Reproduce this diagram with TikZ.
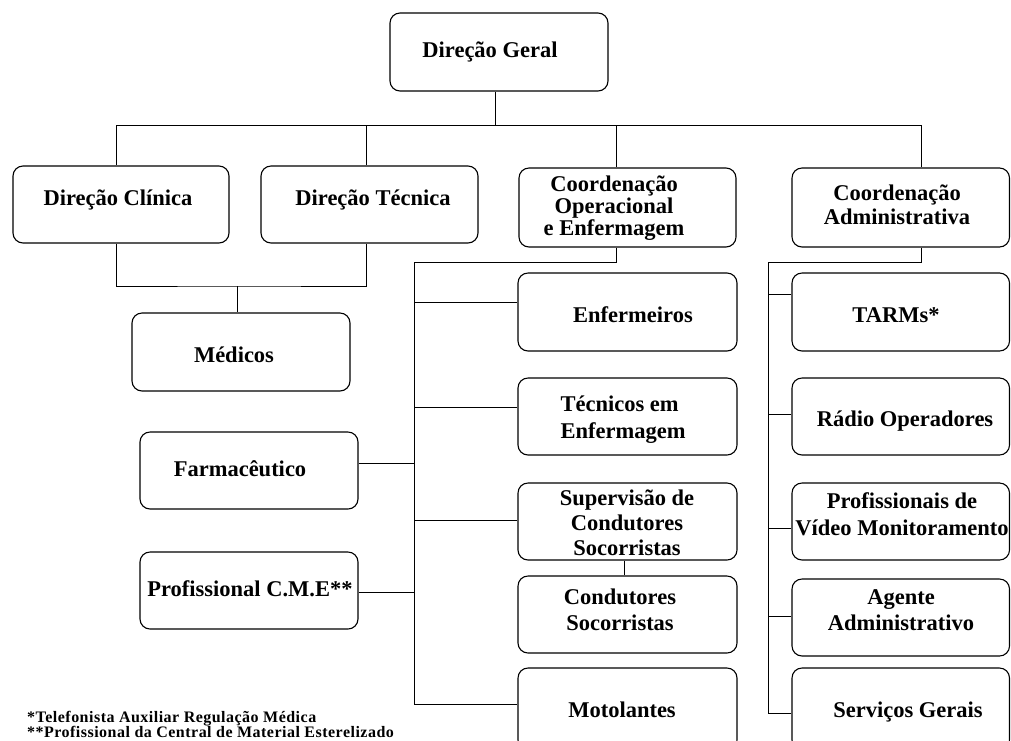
\documentclass[tikz,border=0pt]{standalone}
\usepackage{fontspec}
\setmainfont{Liberation Serif}
\newfontfamily\notefont[LetterSpace=3]{Liberation Serif}
% multi-line label: #1 line spacing, #2 column alignment, #3 lines
\newcommand{\txtlines}[3]{{\fontsize{22.5}{#1}\selectfont\begin{tabular}[t]{@{}#2@{}}#3\end{tabular}}}

\begin{document}
\begin{tikzpicture}[x=1pt,y=-1pt,
  box/.style={draw, line width=1.1pt, rounded corners=10pt, inner sep=0pt},
  link/.style={line width=0.9pt},
  lbl/.style={inner sep=0pt, anchor=base, font=\fontsize{22.5}{26}\selectfont\bfseries},
  note/.style={inner sep=0pt, anchor=base west, font=\fontsize{16}{16}\selectfont\notefont\bfseries}]
\useasboundingbox (0,0) rectangle (1011,740);

% ---- boxes ----
\node[box, minimum width=218pt, minimum height=78pt] (dg)  at (499,52) {};
\node[box, minimum width=216pt, minimum height=77pt] (dc)  at (121,204.5) {};
\node[box, minimum width=217pt, minimum height=77pt] (dt)  at (369.5,204.5) {};
\node[box, minimum width=217pt, minimum height=79pt] (co)  at (627.5,207.5) {};
\node[box, minimum width=217.5pt, minimum height=79pt] (ca) at (900.75,207.5) {};
\node[box, minimum width=218pt, minimum height=78pt] (med)  at (241,352) {};
\node[box, minimum width=218pt, minimum height=77pt] (farm) at (249,470.5) {};
\node[box, minimum width=218pt, minimum height=77pt] (cme)  at (249,590.5) {};
\node[box, minimum width=219pt, minimum height=78pt] (enf)  at (627.5,312) {};
\node[box, minimum width=219pt, minimum height=77pt] (tec)  at (627.5,416.5) {};
\node[box, minimum width=219pt, minimum height=77pt] (sup)  at (627.5,521.5) {};
\node[box, minimum width=219pt, minimum height=77pt] (cond) at (627.5,614.5) {};
\node[box, minimum width=219pt, minimum height=82pt] (moto) at (627.5,709) {};
\node[box, minimum width=217.5pt, minimum height=78pt] (tarm)  at (900.75,312) {};
\node[box, minimum width=217.5pt, minimum height=77pt] (radio) at (900.75,416.5) {};
\node[box, minimum width=217.5pt, minimum height=77pt] (video) at (900.75,521.5) {};
\node[box, minimum width=217.5pt, minimum height=77pt] (agen)  at (900.75,617.5) {};
\node[box, minimum width=217.5pt, minimum height=82pt] (serv)  at (900.75,709) {};

% ---- labels ----
\node[lbl] (tdg)   at (490,57)  {Direção Geral};
\node[lbl] (tdc)   at (118,205) {Direção Clínica};
\node[lbl] (tdt)   at (373,205) {Direção Técnica};
\node[lbl] (tco)   at (614,191) {\txtlines{21.7}{c}{Coordenação\\Operacional\\e Enfermagem}};
\node[lbl] (tca)   at (897,200) {\txtlines{24}{c}{Coordenação\\Administrativa}};
\node[lbl] (tmed)  at (234,362) {Médicos};
\node[lbl] (tfarm) at (240,476) {Farmacêutico};
\node[lbl] (tcme)  at (250,596) {Profissional C.M.E**};
\node[lbl] (tenf)  at (633,322) {Enfermeiros};
\node[lbl] (ttec)  at (623,411) {\txtlines{27}{l}{Técnicos em\\Enfermagem}};
\node[lbl] (tsup)  at (627,505) {\txtlines{25}{c}{Supervisão de\\Condutores\\Socorristas}};
\node[lbl] (tcond) at (620,604) {\txtlines{26}{c}{Condutores\\Socorristas}};
\node[lbl] (tmoto) at (622,717) {Motolantes};
\node[lbl] (ttarm) at (896,322) {TARMs*};
\node[lbl] (trad)  at (905,426) {Rádio Operadores};
\node[lbl] (tvid)  at (902,508) {\txtlines{27}{c}{Profissionais de\\Vídeo Monitoramento}};
\node[lbl] (tage)  at (901,604) {\txtlines{26}{c}{Agente\\Administrativo}};
\node[lbl] (tserv) at (908,717) {Serviços Gerais};

% ---- footnotes ----
\node[note] (n1) at (27,722) {*Telefonista Auxiliar Regulação Médica};
\node[note] (n2) at (27,737) {**Profissional da Central de Material Esterelizado};

% ---- bus points ----
\coordinate (kDG) at (495,125);
\coordinate (kDC) at (116,125);
\coordinate (kDT) at (366,125);
\coordinate (kCO) at (616,125);
\coordinate (kCA) at (921,125);
\coordinate (jM)  at (237,286);
\coordinate (op)  at (414,262);
\coordinate (opEnd) at (414,704);
\coordinate (oEnf)  at (414,302);
\coordinate (oTec)  at (414,407);
\coordinate (oSup)  at (414,520);
\coordinate (oFarm) at (414,463);
\coordinate (oCme)  at (414,592);
\coordinate (kSC) at (624,568);
\coordinate (ad)  at (768,262);
\coordinate (adEnd) at (768,713);
\coordinate (aTarm)  at (768,294);
\coordinate (aRadio) at (768,414);
\coordinate (aVideo) at (768,528);
\coordinate (aAgen)  at (768,616);

% ---- connectors ----
\draw[link] (dg.south -| kDG) -- (kDG);
\draw[link] (kDC) -- (kCA);
\draw[link] (kDC) -- (dc.north -| kDC);
\draw[link] (kDT) -- (dt.north -| kDT);
\draw[link] (kCO) -- (co.north -| kCO);
\draw[link] (kCA) -- (ca.north -| kCA);

\draw[link] (dc.south -| kDC) |- (jM) -| (dt.south -| kDT);
\draw[link] (jM) -- (med.north -| jM);

\draw[link] (co.south -| kCO) |- (op) -- (opEnd) -- (moto.west |- opEnd);
\draw[link] (oEnf) -- (enf.west |- oEnf);
\draw[link] (oTec) -- (tec.west |- oTec);
\draw[link] (oSup) -- (sup.west |- oSup);
\draw[link] (farm.east |- oFarm) -- (oFarm);
\draw[link] (cme.east |- oCme) -- (oCme);
\draw[link] (sup.south -| kSC) -- (cond.north -| kSC);

\draw[link] (ca.south -| kCA) |- (ad) -- (adEnd) -- (serv.west |- adEnd);
\draw[link] (aTarm)  -- (tarm.west |- aTarm);
\draw[link] (aRadio) -- (radio.west |- aRadio);
\draw[link] (aVideo) -- (video.west |- aVideo);
\draw[link] (aAgen)  -- (agen.west |- aAgen);
\end{tikzpicture}
\end{document}
